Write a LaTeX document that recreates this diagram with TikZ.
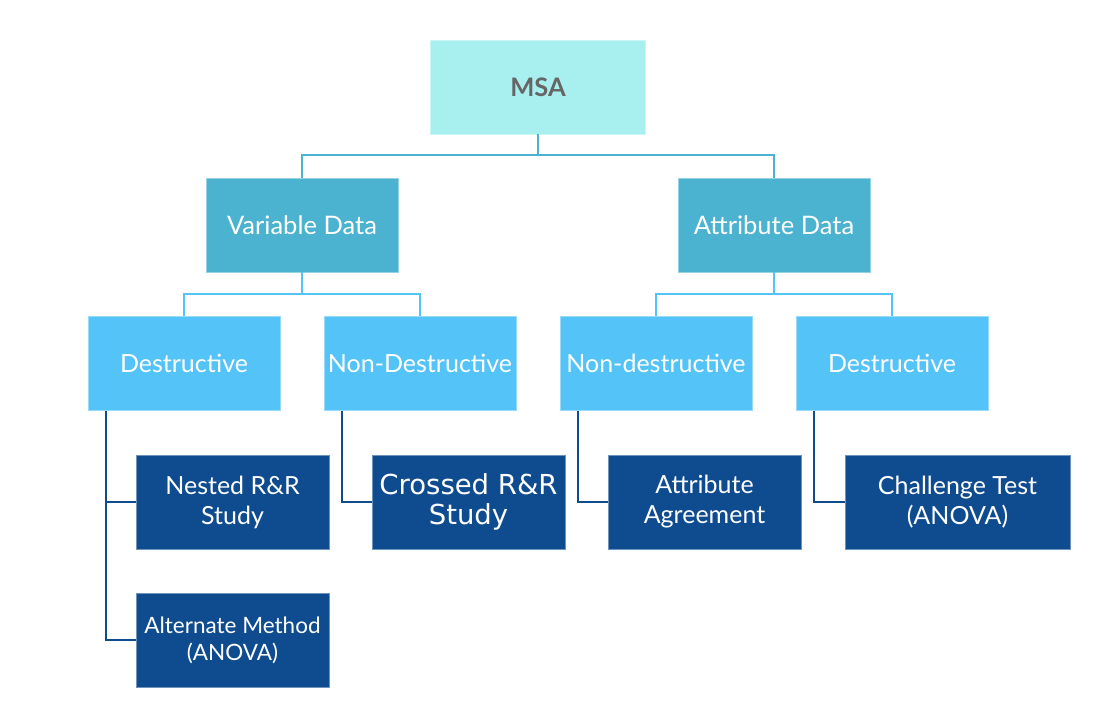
\documentclass[tikz,border=0pt]{standalone}
\usepackage{fontspec}
\setmainfont{Lato}
\newfontfamily\dejavu{DejaVu Sans}
\definecolor{msac}{HTML}{A8F0F0}
\definecolor{lvone}{HTML}{4BB3D0}
\definecolor{lvtwo}{HTML}{54C3F8}
\definecolor{lvthree}{HTML}{0F4C8F}
\definecolor{msatext}{HTML}{666666}
\tikzset{
  box/.style={minimum width=192pt, minimum height=94pt, inner sep=0pt, align=center, text=white, line width=0.6pt},
  rootbox/.style={box, fill=msac, draw=msac!60!white, minimum width=215pt, text=msatext, font=\fontsize{25.5}{30}\selectfont\bfseries},
  onebox/.style={box, fill=lvone, draw=lvone!60!white, font=\fontsize{25.5}{30}\selectfont},
  twobox/.style={box, fill=lvtwo, draw=lvtwo!60!white, font=\fontsize{25}{30}\selectfont},
  threebox/.style={box, fill=lvthree, draw=lvthree!60!white, minimum width=193pt, font=\fontsize{25}{30}\selectfont},
  conone/.style={draw=lvone, line width=2pt},
  contwo/.style={draw=lvtwo, line width=2pt},
  conthree/.style={draw=lvthree, line width=2pt},
}
\begin{document}
\begin{tikzpicture}[x=1pt,y=-1pt]
\useasboundingbox (0,0) rectangle (1119,704);
\node[rootbox] (msa) at (538,87) {MSA};
\node[onebox] (vd) at (302,225) {Variable Data};
\node[onebox] (ad) at (774,225) {Attribute Data};
\node[twobox] (d1) at (184,363) {Destructive};
\node[twobox] (nd1) at (420,363) {Non-Destructive};
\node[twobox] (nd2) at (656,363) {Non-destructive};
\node[twobox] (d2) at (892,363) {Destructive};
\node[threebox] (nested) at (232.5,502) {Nested R\&R\\Study};
\node[threebox, font=\dejavu\fontsize{27.5}{30}\selectfont] (crossed) at (468.5,502) {Crossed R\&R\\Study};
\node[threebox] (agree) at (704.5,502) {Attribute\\Agreement};
\node[threebox, minimum width=225pt] (chal) at (957.5,502) {Challenge Test\\(ANOVA)};
\node[threebox, font=\fontsize{22.5}{27}\selectfont] (alt) at (232.5,640) {Alternate Method\\(ANOVA)};
% level 1 connectors
\coordinate (m1) at (538,155);
\draw[conone] (msa.south) -- (m1);
\draw[conone] (vd.north) |- (m1) -| (ad.north);
% level 2 connectors
\coordinate (v1) at (302,294);
\coordinate (a1) at (774,294);
\draw[contwo] (vd.south) -- (v1);
\draw[contwo] (d1.north) |- (v1) -| (nd1.north);
\draw[contwo] (ad.south) -- (a1);
\draw[contwo] (nd2.north) |- (a1) -| (d2.north);
% level 3 connectors
\coordinate (d1s) at (106,411);
\coordinate (d1m) at (106,502);
\coordinate (nd1s) at (342,411);
\coordinate (nd2s) at (578,411);
\coordinate (d2s) at (814,411);
\draw[conthree] (d1s) |- (alt.west);
\draw[conthree] (d1m) -- (nested.west);
\draw[conthree] (nd1s) |- (crossed.west);
\draw[conthree] (nd2s) |- (agree.west);
\draw[conthree] (d2s) |- (chal.west);
\end{tikzpicture}
\end{document}
